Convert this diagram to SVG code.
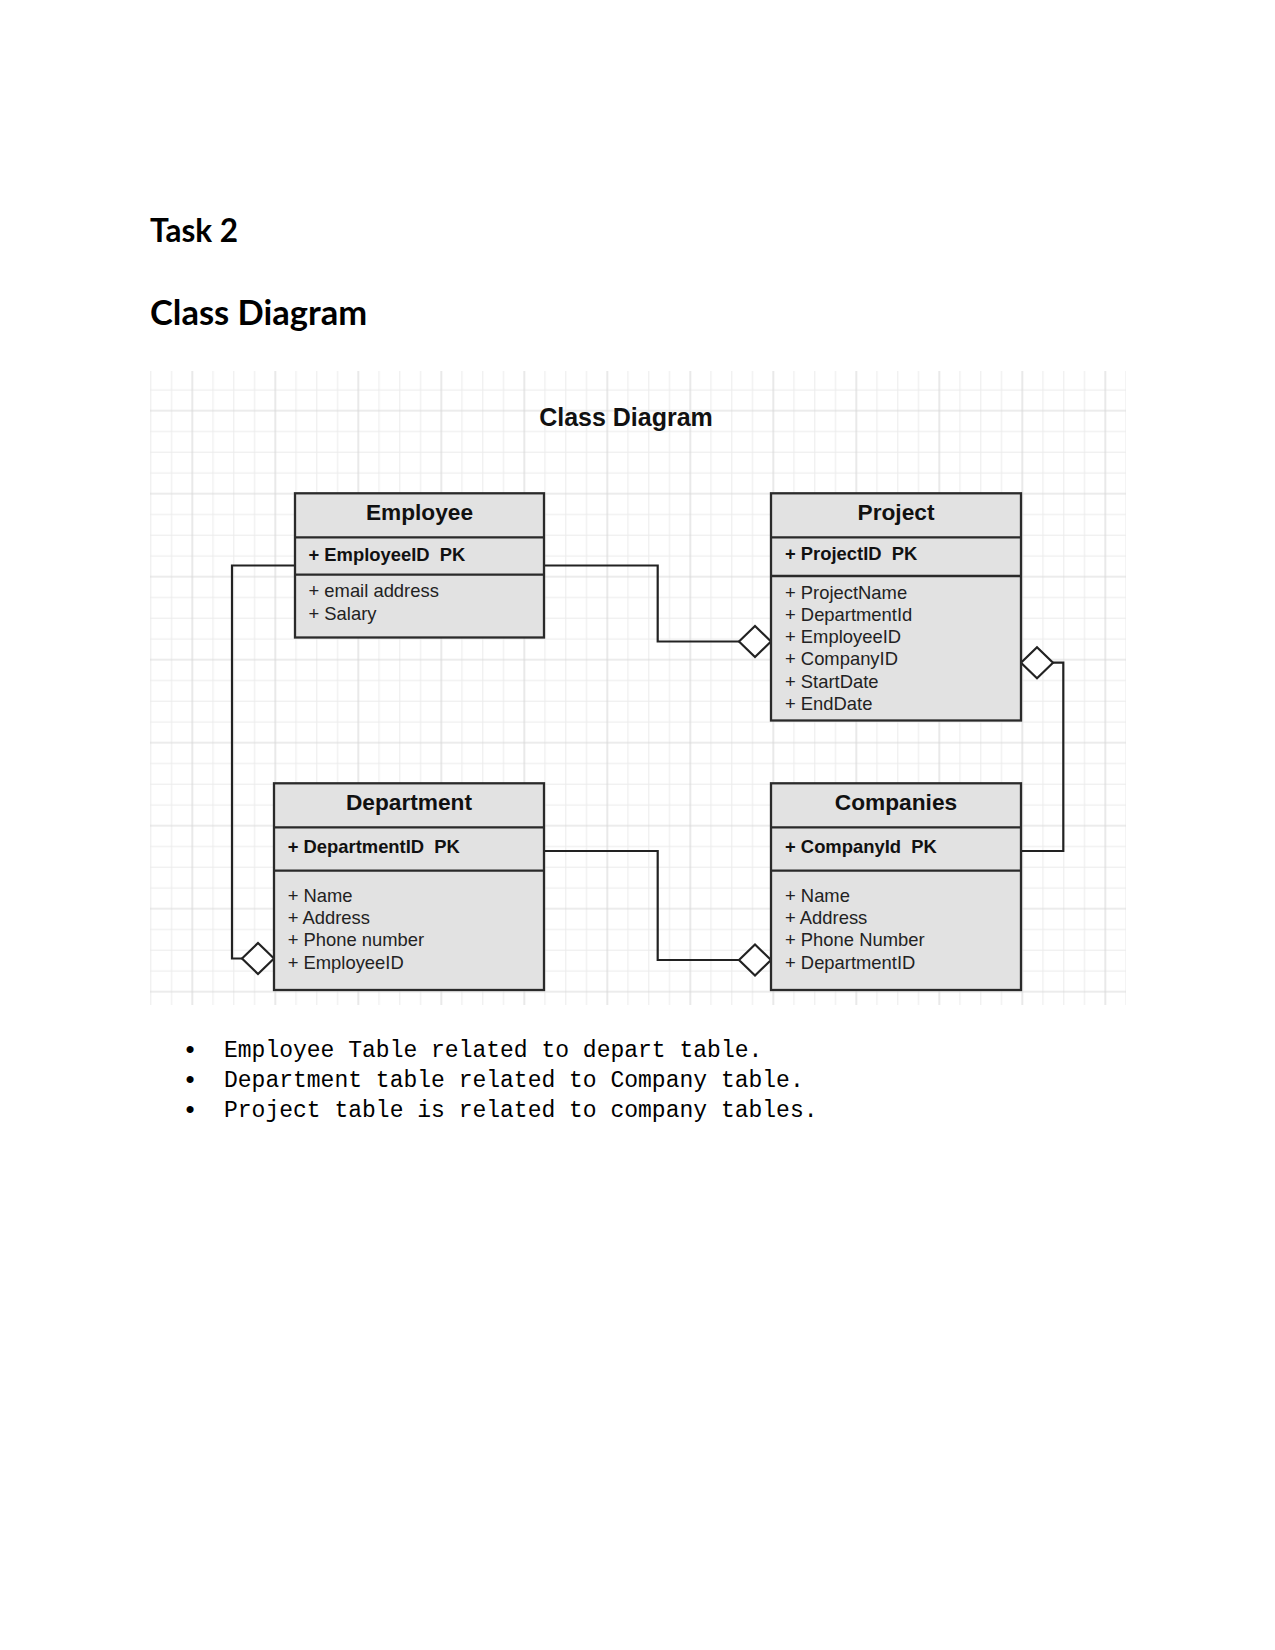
<svg xmlns="http://www.w3.org/2000/svg" width="1275" height="1650" viewBox="0 0 1275 1650">
<style>
.page{font-family:Lato,"Liberation Sans",sans-serif;font-weight:bold;fill:#000}
.box{fill:#e2e2e2;stroke:#2a2a2a;stroke-width:2.3}
.div{stroke:#2a2a2a;stroke-width:2.3}
.ttl{font-family:"Liberation Sans",Arial,sans-serif;font-weight:bold;font-size:22.7px;fill:#111;text-anchor:middle}
.pk{font-family:"Liberation Sans",Arial,sans-serif;font-weight:bold;font-size:18.4px;fill:#111}
.at{font-family:"Liberation Sans",Arial,sans-serif;font-size:18.4px;fill:#222}
.con{fill:none;stroke:#222;stroke-width:2.2;marker-end:url(#dia)}
.bul{font-family:"Liberation Mono","Courier New",monospace;font-size:23px;fill:#000}
.dot{font-family:"Liberation Sans",Arial,sans-serif;font-size:26px;fill:#000;text-anchor:middle}
</style>
<defs>
<pattern id="grid" patternUnits="userSpaceOnUse" x="182.3" y="400.7" width="83" height="83">
<path d="M30.75,0V83M51.5,0V83M72.25,0V83M0,30.75H83M0,51.5H83M0,72.25H83" stroke="#ebebeb" stroke-width="1" fill="none"/>
<path d="M10,0V83M0,10H83" stroke="#dadada" stroke-width="1.2" fill="none"/>
</pattern>
<marker id="dia" markerUnits="userSpaceOnUse" viewBox="-2 -2 36 35" refX="32" refY="15.5" markerWidth="36" markerHeight="35" orient="auto" overflow="visible">
<path d="M0,15.5L16,0L32,15.5L16,31Z" fill="#fff" stroke="#222" stroke-width="2.2"/>
</marker>
</defs>
<rect width="1275" height="1650" fill="#fff"/>
<text class="page" x="150" y="242" font-size="31.5">Task 2</text>
<text class="page" x="150" y="325" font-size="34.5">Class Diagram</text>
<rect x="150" y="371" width="976" height="634" fill="url(#grid)"/>
<text x="626" y="426" font-family="Liberation Sans, Arial, sans-serif" font-weight="bold" font-size="25" fill="#111" text-anchor="middle">Class Diagram</text>
<g id="connectors">
<path class="con" d="M544,565.5H657.7V641.5H771"/>
<path class="con" d="M295,565.5H232V958.5H274"/>
<path class="con" d="M544,851H657.7V960H771"/>
<path class="con" d="M1021,851H1063.3V662.7H1021"/>
</g>
<g id="employee">
<rect class="box" x="295" y="493.3" width="249" height="144.2"/>
<path class="div" d="M295,537.3H544M295,574.7H544"/>
<text class="ttl" x="419.5" y="520">Employee</text>
<text class="pk" x="308.5" y="560.7" xml:space="preserve">+ EmployeeID  PK</text>
<text class="at" x="308.5" y="597.3">+ email address</text>
<text class="at" x="308.5" y="619.8">+ Salary</text>
</g>
<g id="project">
<rect class="box" x="771" y="493.3" width="250" height="227.2"/>
<path class="div" d="M771,537.3H1021M771,576H1021"/>
<text class="ttl" x="896" y="519.5">Project</text>
<text class="pk" x="785" y="560" xml:space="preserve">+ ProjectID  PK</text>
<text class="at" x="785" y="598.5">+ ProjectName</text>
<text class="at" x="785" y="620.8">+ DepartmentId</text>
<text class="at" x="785" y="643.1">+ EmployeeID</text>
<text class="at" x="785" y="665.4">+ CompanyID</text>
<text class="at" x="785" y="687.7">+ StartDate</text>
<text class="at" x="785" y="710">+ EndDate</text>
</g>
<g id="department">
<rect class="box" x="274" y="783.3" width="270" height="206.7"/>
<path class="div" d="M274,827.3H544M274,870.7H544"/>
<text class="ttl" x="409" y="810">Department</text>
<text class="pk" x="287.7" y="853.3" xml:space="preserve">+ DepartmentID  PK</text>
<text class="at" x="287.7" y="901.7">+ Name</text>
<text class="at" x="287.7" y="924">+ Address</text>
<text class="at" x="287.7" y="946.3">+ Phone number</text>
<text class="at" x="287.7" y="968.6">+ EmployeeID</text>
</g>
<g id="companies">
<rect class="box" x="771" y="783.3" width="250" height="206.7"/>
<path class="div" d="M771,827.3H1021M771,870.7H1021"/>
<text class="ttl" x="896" y="810">Companies</text>
<text class="pk" x="785" y="853.3" xml:space="preserve">+ CompanyId  PK</text>
<text class="at" x="785" y="901.7">+ Name</text>
<text class="at" x="785" y="924">+ Address</text>
<text class="at" x="785" y="946.3">+ Phone Number</text>
<text class="at" x="785" y="968.6">+ DepartmentID</text>
</g>
<text class="dot" x="190" y="1058">•</text>
<text class="dot" x="190" y="1088">•</text>
<text class="dot" x="190" y="1118">•</text>
<text class="bul" x="224" y="1057">Employee Table related to depart table.</text>
<text class="bul" x="224" y="1087">Department table related to Company table.</text>
<text class="bul" x="224" y="1117">Project table is related to company tables.</text>
</svg>
